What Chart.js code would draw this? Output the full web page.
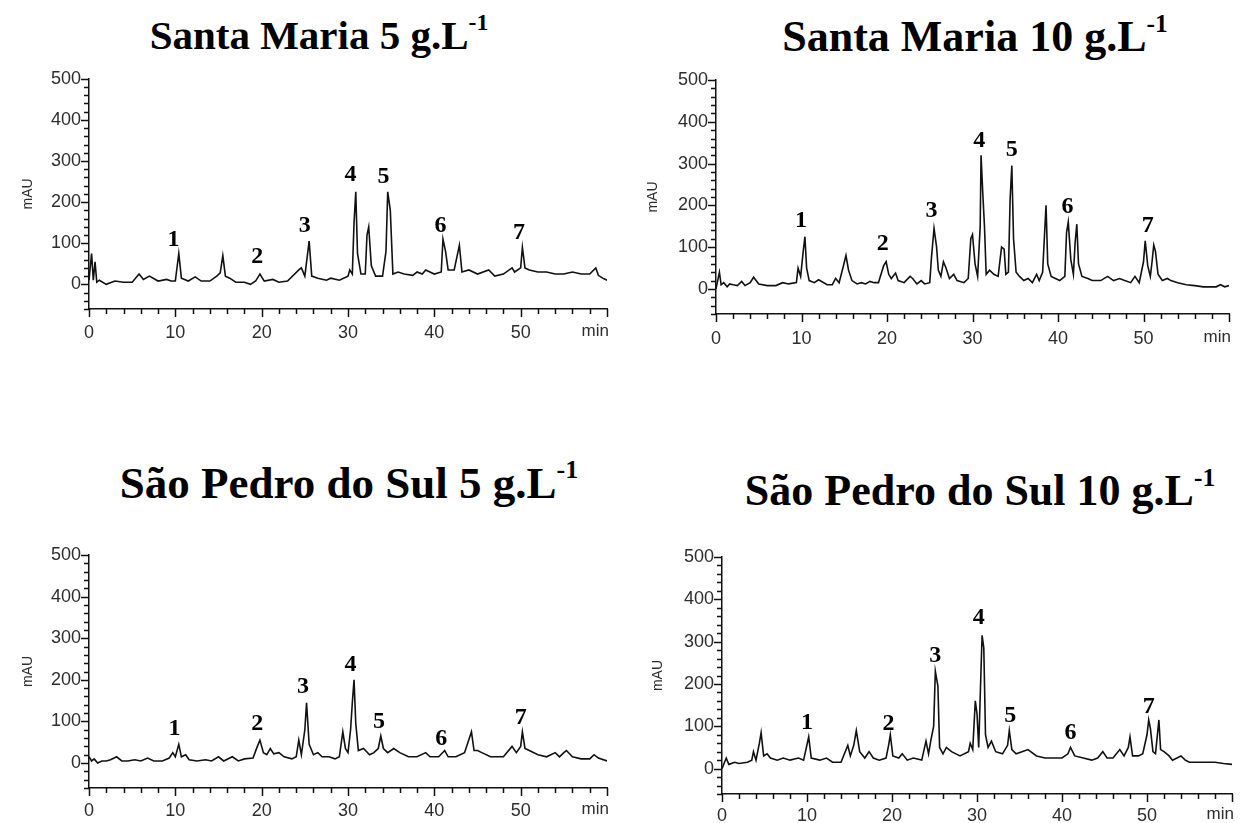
<!DOCTYPE html>
<html>
<head>
<meta charset="utf-8">
<script src="https://cdn.jsdelivr.net/npm/chart.js@4.4.1/dist/chart.umd.min.js"></script>
<style>
  body { margin: 0; background: #fff; width: 1243px; height: 823px; position: relative; overflow: hidden; }
  .title { position: absolute; transform: translate(-50%, -50%); white-space: nowrap;
           font-family: "Liberation Serif", "Times New Roman", serif; font-weight: bold; color: #000; }
  .title sup { font-size: 58%; vertical-align: top; position: relative; top: -2px; }
  canvas { position: absolute; }
</style>
</head>
<body>
<div class="title" style="left:319px;top:35px;font-size:41px">Santa Maria 5 g.L<sup>-1</sup></div>
<div class="title" style="left:975px;top:36px;font-size:44px">Santa Maria 10 g.L<sup>-1</sup></div>
<div class="title" style="left:349px;top:483px;font-size:45px">São Pedro do Sul 5 g.L<sup>-1</sup></div>
<div class="title" style="left:980px;top:490px;font-size:44px">São Pedro do Sul 10 g.L<sup>-1</sup></div>

<canvas id="sm5" width="620" height="290" style="left:0;top:60px"></canvas>
<canvas id="sm10" width="616" height="290" style="left:627px;top:60px"></canvas>
<canvas id="sp5" width="620" height="293" style="left:0;top:530px"></canvas>
<canvas id="sp10" width="616" height="293" style="left:627px;top:530px"></canvas>

<script>
// axis ticks
const yTickLabels = [0, 100, 200, 300, 400, 500];
const xTickLabels = [0, 10, 20, 30, 40, 50];
const xUnit = 'min';
const yTitle = 'mAU';
const peakNames = ['1', '2', '3', '4', '5', '6', '7'];

// Santa Maria 5 g/L
const sm5Time = [0,0.3,0.5,0.7,0.9,1.2,2,3,4,5,5.8,6.3,7,8,9,9.5,10,10.4,10.7,11.5,12.3,13,14,14.8,15.2,15.5,15.8,16.3,17,18,18.7,19.3,19.8,20.3,21.3,22,23,24.3,24.6,25,25.5,25.8,26.5,27.5,28,29,30,30.2,30.5,30.7,30.9,31.1,31.5,32,32.2,32.4,32.7,33.2,34,34.4,34.6,34.9,35.2,35.8,36.5,37.5,38,38.6,39,40,40.8,41,41.3,41.6,42.3,42.9,43.2,44,45,46.3,47,48,49,49.3,50,50.2,50.5,51,52,53,54,55,56,57,58,58.7,59,59.5,60];
const sm5Abs = [10,75,10,55,5,10,0,8,5,5,25,12,20,8,12,8,8,75,15,8,18,8,8,20,28,70,20,15,5,5,0,8,25,8,12,5,8,35,40,20,105,20,15,10,15,10,20,35,25,150,225,75,25,25,120,140,45,20,20,80,225,180,25,30,25,22,30,25,35,25,30,110,80,35,35,95,30,35,25,35,20,25,40,30,40,90,40,35,30,30,25,25,30,25,25,40,22,15,10];
const sm5PeakTime = [9.8, 19.5, 25, 30.3, 34.1, 40.7, 49.8];
const sm5PeakLabel = [108, 66, 142, 266, 262, 142, 125];

// Santa Maria 10 g/L
const sm10Time = [0,0.4,0.6,0.9,1.3,1.6,2,2.5,3,3.4,4,4.4,5,6,7,7.8,8.5,9.4,9.6,9.9,10.2,10.4,10.6,10.9,11.5,12,13,13.6,14,14.4,14.9,15.2,15.5,15.9,16.5,17,17.5,18,18.5,19,19.6,19.9,20.2,20.5,21,21.3,22,22.7,23,23.5,24,24.4,25,25.2,25.5,25.8,26,26.3,26.6,26.9,27.3,27.8,28.2,29,29.5,29.8,30,30.3,30.6,30.9,31,31.2,31.4,31.6,32,32.5,33,33.4,33.7,33.9,34.2,34.4,34.6,34.8,35.1,35.5,36,36.5,37,37.5,37.8,38.2,38.4,38.6,38.8,39.2,39.7,40.2,40.8,41,41.2,41.5,41.8,42,42.2,42.4,42.8,43.5,44,45,45.8,46.5,47.2,47.8,48.5,49,49.5,50,50.2,50.5,50.8,51,51.2,51.4,51.7,52.2,52.8,53.2,54,55,56,57,58.5,59,59.5,60];
const sm10Abs = [0,40,10,15,5,12,10,8,18,8,15,28,12,8,8,15,12,15,50,30,90,125,50,20,15,22,10,10,25,15,55,80,45,20,12,15,12,18,15,15,55,65,35,25,38,20,15,30,25,12,20,12,15,75,145,100,45,30,65,50,25,35,20,15,25,120,130,60,30,150,320,230,150,35,45,35,30,100,95,35,40,215,295,120,40,30,20,25,15,35,20,40,120,200,60,30,25,20,30,135,160,70,35,110,155,60,30,25,20,20,30,20,25,20,15,30,15,65,115,55,30,65,105,90,35,20,25,20,15,10,8,5,5,10,5,8];
const sm10PeakTime = [9.95, 19.5, 25.2, 30.8, 34.6, 41.1, 50.5];
const sm10PeakLabel = [163, 107, 186, 354, 332, 197, 152];

// São Pedro do Sul 5 g/L
const sp5Time = [0,0.3,0.6,1,1.5,2,2.5,3.2,3.8,4.5,5.3,6,6.8,7.5,8.5,9.3,9.7,10,10.4,10.7,11.2,11.6,12.5,13.5,14.2,15,15.6,16.6,17.3,18,19,19.5,19.8,20.2,20.6,21,21.4,22,22.6,23.5,24,24.3,24.6,25,25.2,25.5,26,26.5,27,27.8,28.5,29,29.4,29.7,30,30.3,30.5,30.7,30.9,31.2,31.8,32.5,33,33.5,33.8,34.1,34.6,35.3,36,37,38,39,39.5,40.5,41.2,41.6,42.5,43.5,44.3,44.6,45,45.5,46.5,48,49,49.5,50,50.2,50.5,51,52,53,54,54.5,55,55.3,56,57,58,58.5,59,60];
const sp5Abs = [15,5,10,0,5,5,8,15,5,5,8,5,12,5,5,12,25,15,45,15,20,8,5,8,5,15,5,15,5,10,12,40,55,25,20,35,22,25,15,10,15,55,20,80,145,45,20,25,15,15,10,15,75,35,25,80,145,200,95,30,35,20,25,35,65,35,25,35,25,15,15,25,15,15,30,15,15,25,75,30,30,25,15,15,40,25,40,75,35,30,20,15,25,15,25,30,15,10,10,20,12,5];
const sp5PeakTime = [9.9, 19.5, 24.8, 30.3, 33.6, 40.8, 50];
const sp5PeakLabel = [83, 94, 184, 236, 99, 59, 109];

// São Pedro do Sul 10 g/L
const sp10Time = [0,0.5,0.8,1.5,2,3,3.5,3.7,4,4.4,4.6,4.9,5.3,5.7,6.5,7.2,8,9,9.6,10.2,10.5,11.5,12.3,13,14,14.8,15.1,15.5,15.8,16.2,16.8,17.3,17.8,18.5,19.3,19.6,19.8,20.1,20.8,21.2,21.8,22.5,23.5,24,24.3,24.6,24.9,25.1,25.4,25.6,26,26.4,27,28,29,29.2,29.5,29.8,30,30.2,30.4,30.6,30.8,31,31.3,31.7,32.2,33,33.6,33.8,34.1,34.6,35.3,36,37,38,39,40,40.7,41,41.5,42.5,43.5,44.2,44.8,45.3,46,46.8,47.3,47.8,48,48.3,49,49.5,50,50.2,50.4,50.7,51,51.2,51.4,51.6,52,52.6,53,54,54.5,55,56,57,58,59,60];
const sp10Abs = [0,25,10,15,12,15,20,40,20,60,85,30,35,25,20,25,20,25,20,75,25,20,25,15,15,55,30,55,90,40,25,40,25,20,25,55,80,30,25,35,20,25,20,65,35,70,100,230,195,50,35,50,40,30,40,60,45,160,130,50,185,315,285,80,50,65,40,35,55,90,45,35,40,45,30,25,25,25,35,50,30,25,20,25,40,25,25,45,30,50,75,30,30,35,80,115,95,40,35,75,115,45,40,30,20,30,20,15,15,15,15,12,10];
const sp10PeakTime = [10, 19.6, 25.1, 30.2, 33.9, 41, 50.2];
const sp10PeakLabel = [108, 105, 267, 356, 124, 84, 147];

const axisColor = '#111';
const labelColor = '#2e2e2e';
const sansFont = '"Liberation Sans", Arial, sans-serif';
const serifFont = '"Liberation Serif", "Times New Roman", serif';

// minor/major tick marks drawn on both axes, plus peak numbers and the "min" unit
const chromPlugin = {
    id: 'chrom',
    afterDraw(chart) {
        const ctx = chart.ctx;
        const xs = chart.scales.x;
        const ys = chart.scales.y;
        const area = chart.chartArea;
        ctx.save();
        ctx.strokeStyle = axisColor;
        ctx.lineWidth = 1.5;
        ctx.beginPath();
        for (let v = ys.min; v <= ys.max; v += 20) {
            const y = Math.round(ys.getPixelForValue(v)) + 0.5;
            const len = v % 100 === 0 ? 8 : 5;
            ctx.moveTo(area.left, y);
            ctx.lineTo(area.left - len, y);
        }
        for (let v = xs.min; v <= xs.max; v += 2) {
            const x = Math.round(xs.getPixelForValue(v)) + 0.5;
            const len = v % 10 === 0 ? 8 : 5;
            ctx.moveTo(x, area.bottom);
            ctx.lineTo(x, area.bottom + len);
        }
        ctx.stroke();

        const opts = chart.options.plugins.chrom;
        ctx.fillStyle = labelColor;
        ctx.font = '17px ' + sansFont;
        ctx.textAlign = 'right';
        ctx.textBaseline = 'middle';
        ctx.fillText(xUnit, area.right + 2, area.bottom + opts.xLabelOffset);

        ctx.fillStyle = '#000';
        ctx.font = 'bold 24px ' + serifFont;
        ctx.textAlign = 'center';
        opts.peakTime.forEach((t, i) => {
            ctx.fillText(peakNames[i], xs.getPixelForValue(t), ys.getPixelForValue(opts.peakLabel[i]));
        });
        ctx.restore();
    }
};

function createChromChart(id, times, values, peakTime, peakLabel, box) {
    const points = times.map((t, i) => ({ x: t, y: values[i] }));
    return new Chart(document.getElementById(id), {
        type: 'line',
        data: {
            datasets: [{
                data: points,
                borderColor: '#111',
                borderWidth: 1.6,
                pointRadius: 0,
                tension: 0,
                fill: false
            }]
        },
        options: {
            responsive: false,
            animation: false,
            layout: { padding: { top: box.top, right: box.right, left: 0, bottom: 0 } },
            scales: {
                x: {
                    type: 'linear',
                    min: 0,
                    max: 60,
                    afterFit: s => { s.height = box.xHeight; },
                    grid: { display: false, drawTicks: false },
                    border: { display: true, color: axisColor, width: 1.5 },
                    ticks: {
                        stepSize: 10,
                        autoSkip: false,
                        maxRotation: 0,
                        padding: box.xPad,
                        color: labelColor,
                        font: { family: sansFont, size: 18 },
                        callback: v => xTickLabels.includes(v) ? String(v) : ''
                    }
                },
                y: {
                    min: -60,
                    max: 500,
                    afterFit: s => { s.width = box.yWidth; },
                    grid: { display: false, drawTicks: false },
                    border: { display: true, color: axisColor, width: 1.5 },
                    ticks: {
                        stepSize: 20,
                        autoSkip: false,
                        padding: 8,
                        color: labelColor,
                        font: { family: sansFont, size: 18 },
                        callback: v => yTickLabels.includes(v) ? String(v) : ''
                    },
                    title: {
                        display: true,
                        text: yTitle,
                        color: labelColor,
                        font: { family: sansFont, size: 14 },
                        padding: { top: box.titlePad, bottom: 0 }
                    }
                }
            },
            plugins: {
                legend: { display: false },
                tooltip: { enabled: false },
                chrom: { peakTime: peakTime, peakLabel: peakLabel, xLabelOffset: box.xPad + 9 }
            }
        },
        plugins: [chromPlugin]
    });
}

createChromChart('sm5', sm5Time, sm5Abs, sm5PeakTime, sm5PeakLabel,
    { top: 15, right: 13, yWidth: 89, xHeight: 41, xPad: 13, titlePad: 20 });
createChromChart('sm10', sm10Time, sm10Abs, sm10PeakTime, sm10PeakLabel,
    { top: 20, right: 5, yWidth: 89, xHeight: 36, xPad: 14, titlePad: 18 });
createChromChart('sp5', sp5Time, sp5Abs, sp5PeakTime, sp5PeakLabel,
    { top: 25, right: 13, yWidth: 89, xHeight: 35, xPad: 12, titlePad: 20 });
createChromChart('sp10', sp10Time, sp10Abs, sp10PeakTime, sp10PeakLabel,
    { top: 27, right: 2, yWidth: 95, xHeight: 29, xPad: 11, titlePad: 23 });
</script>
</body>
</html>
